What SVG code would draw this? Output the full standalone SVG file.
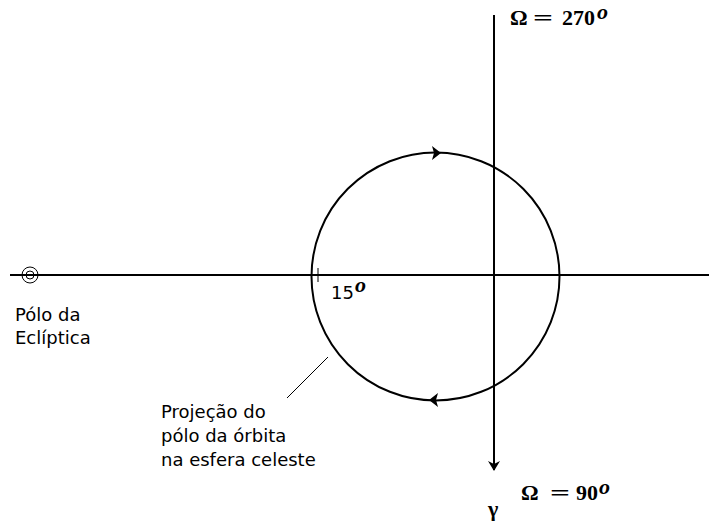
<svg xmlns="http://www.w3.org/2000/svg" width="709" height="524" viewBox="0 0 709 524">
<style>
.ln{stroke:#000;stroke-width:2;fill:none}
.thin{stroke:#000;stroke-width:1;fill:none}
.sans{font-family:"DejaVu Sans",Verdana,sans-serif;font-size:18px;fill:#000}
.ser{font-family:"Liberation Serif","Times New Roman",serif;font-weight:bold;font-size:22px;fill:#000}
.sup{font-family:"Liberation Serif","Times New Roman",serif;font-weight:bold;font-style:italic;font-size:22px;fill:#000}
</style>
<defs>
<marker id="ah" markerWidth="10" markerHeight="12" refX="9" refY="6" orient="auto" markerUnits="userSpaceOnUse">
<path d="M0,0 L10,6 L0,12 L3,6 Z" fill="#000"/>
</marker>
</defs>
<rect width="709" height="524" fill="#fff"/>
<g id="connectors">
<line class="ln" x1="10" y1="275" x2="709" y2="275"/>
<line class="ln" x1="494" y1="15" x2="494" y2="470" marker-end="url(#ah)"/>
<line class="thin" x1="287" y1="398" x2="328" y2="357"/>
<line class="thin" x1="318" y1="268" x2="318" y2="282"/>
</g>
<g id="orbit">
<circle class="ln" cx="435.5" cy="276.5" r="124"/>
<path d="M432,146 L441,153 L432,160 L434,153 Z" fill="#000"/>
<path d="M438,393 L429,400 L438,407 L436,400 Z" fill="#000"/>
</g>
<g id="polo-ecliptica">
<circle class="thin" cx="30" cy="275" r="8"/>
<circle class="thin" cx="30" cy="275" r="4"/>
<text class="sans" x="15" y="321">Pólo da</text>
<text class="sans" x="15" y="344">Eclíptica</text>
</g>
<g id="angle-15">
<text class="sans" x="331" y="299">15</text>
<text class="sup" x="355" y="292" font-size="19">o</text>
</g>
<g id="omega-270">
<text class="ser" x="510" y="25">Ω</text>
<text class="ser" transform="translate(533,25) scale(1.6,1)" x="0" y="0">=</text>
<text class="ser" x="562" y="25">270</text>
<text class="sup" x="597" y="19">o</text>
</g>
<g id="omega-90">
<text class="ser" x="521" y="500">Ω</text>
<text class="ser" transform="translate(550,500) scale(1.6,1)" x="0" y="0">=</text>
<text class="ser" x="576" y="500">90</text>
<text class="sup" x="599" y="494">o</text>
</g>
<g id="gamma">
<text class="ser" x="488" y="516" font-size="18">γ</text>
</g>
<g id="projecao">
<text class="sans" x="161" y="418">Projeção do</text>
<text class="sans" x="161" y="442">pólo da órbita</text>
<text class="sans" x="161" y="466">na esfera celeste</text>
</g>
</svg>
